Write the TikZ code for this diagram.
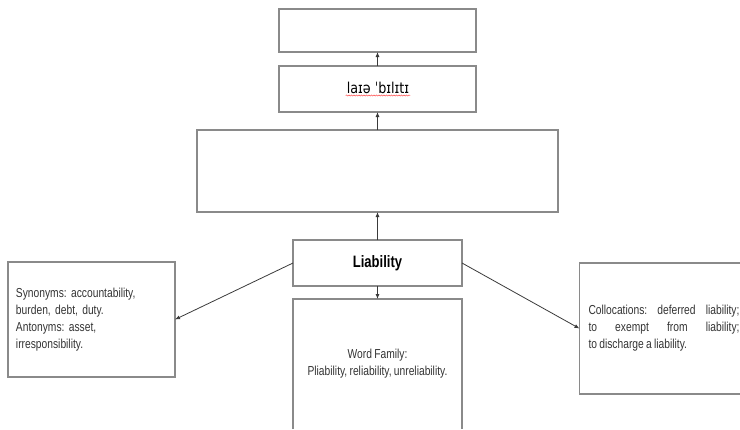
\documentclass[tikz,border=0pt]{standalone}
\usepackage{fontspec}
\setmainfont{Liberation Sans}[FakeStretch=0.79,WordSpace=0.8]
\newfontfamily\ipafont{DejaVu Sans}[FakeStretch=0.85]
\usetikzlibrary{arrows.meta,decorations.pathmorphing}
\definecolor{boxgray}{HTML}{8A8A8A}
\definecolor{linkgray}{HTML}{3A3A3A}
\definecolor{textgray}{HTML}{333333}
\frenchspacing

\begin{document}
\begin{tikzpicture}[x=1pt,y=-1pt,
  box/.style={draw=boxgray,line width=1.1pt,inner sep=0pt,outer sep=0pt},
  openbox/.style={draw=none,inner sep=0pt,outer sep=0pt},
  boxline/.style={draw=boxgray,line width=1.1pt},
  conn/.style={draw=linkgray,line width=0.8pt,-{Latex[length=5pt,width=4pt]}},
  body/.style={text=textgray,font=\fontsize{13}{17}\selectfont}
]
\useasboundingbox (0,0) rectangle (740,429);

% central column
\node[box,minimum width=197pt,minimum height=43pt] (top) at (377.5,30.5) {};
\node[box,minimum width=197pt,minimum height=46pt] (pron) at (377.5,89) {};
\node[inner sep=1pt] (ipa) at (378,87.5)
  {\ipafont\fontsize{15}{17}\selectfont laɪə ˈbɪlɪtɪ};
\draw[red!80,line width=0.4pt,decorate,
  decoration={snake,amplitude=0.6pt,segment length=2.5pt}]
  ([yshift=-1pt]ipa.south west) -- ([yshift=-1pt]ipa.south east);
\node[box,minimum width=361pt,minimum height=82pt] (big) at (377.5,171) {};
\node[box,minimum width=169pt,minimum height=46pt,
  font=\fontsize{16.5}{18}\selectfont\bfseries] (liab) at (377.5,263) {Liability};

% word family (open at the bottom)
\node[openbox,minimum width=169pt,minimum height=130pt,body,align=center]
  (wf) at (377.5,364) {Word Family:\\Pliability, reliability, unreliability.};
\draw[boxline] (wf.south west) -- (wf.north west) -- (wf.north east) -- (wf.south east);

% synonyms / antonyms
\node[box,body,text width=151pt,inner xsep=8pt,minimum height=115pt,align=left]
  (syn) at (91.5,319.5)
  {Synonyms: accountability,\\burden, debt, duty.\\Antonyms: asset,\\irresponsibility.};

% collocations (runs off the right edge)
\node[openbox,body,text width=151pt,inner xsep=9pt,minimum height=131pt,align=justify]
  (coll) at (664,328.5)
  {Collocations: deferred liability;\linebreak to exempt from liability;\linebreak to discharge a liability.};
\draw[boxline] (coll.north east) -- (coll.north west) -- (coll.south west) -- (coll.south east);

% connectors
\draw[conn] (pron.north) -- (top.south);
\draw[conn] (big.north) -- (pron.south);
\draw[conn] (liab.north) -- (big.south);
\draw[conn] (liab.south) -- (wf.north);
\draw[conn] (liab.west) -- (syn.east);
\draw[conn] (liab.east) -- (coll.west);
\end{tikzpicture}
\end{document}
